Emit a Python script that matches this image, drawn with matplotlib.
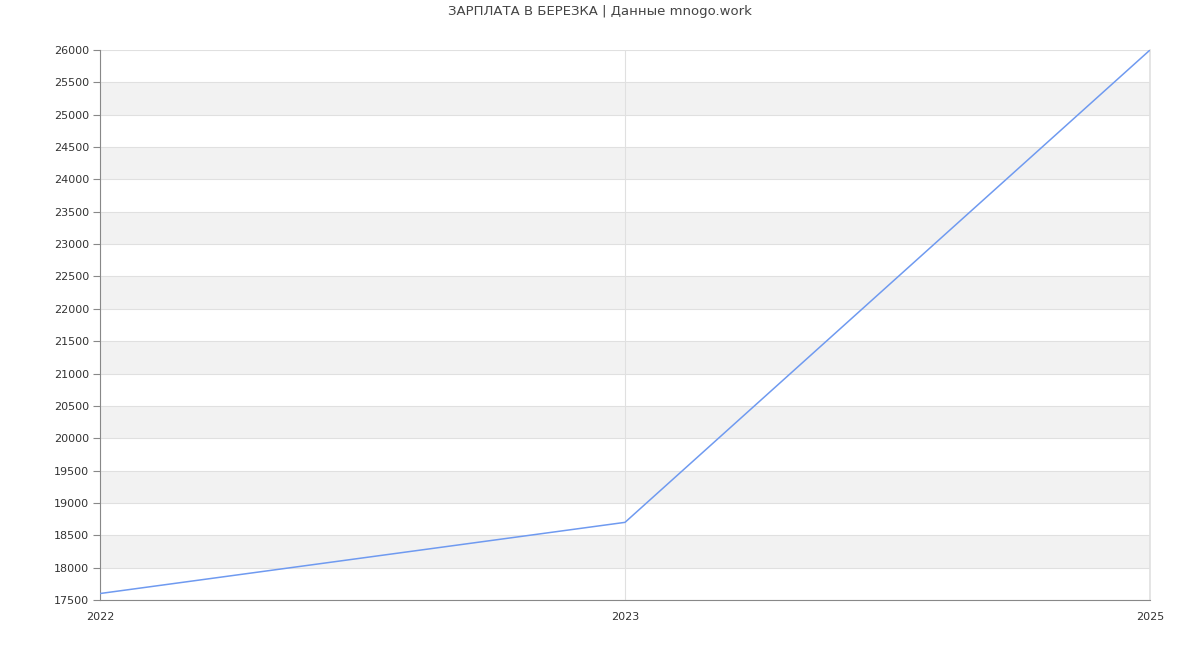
import matplotlib
matplotlib.use("Agg")
import matplotlib.pyplot as plt

years = ["2022", "2023", "2025"]
salary = [17600, 18700, 26000]
title = "ЗАРПЛАТА В БЕРЕЗКА | Данные mnogo.work"

fig = plt.figure(figsize=(12, 6.5), dpi=100)
ax = fig.add_axes([100/1200, 1-600/650, 1050/1200, 550/650])

ymin, ymax, step = 17500, 26000, 500
ax.set_ylim(ymin, ymax)
x = list(range(len(years)))
ax.set_xlim(x[0], x[-1])

# alternating bands
v = ymin
i = 0
while v < ymax:
    if i % 2 == 1:
        ax.axhspan(v, v + step, color="#f2f2f2", lw=0, zorder=0)
    v += step
    i += 1

ax.set_yticks(range(ymin, ymax + 1, step))
ax.set_xticks(x)
ax.set_xticklabels(years)
ax.grid(True, color="#e0e0e0", lw=0.8, zorder=1)
ax.set_axisbelow(True)

ax.plot(x, salary, color="#6f9af0", lw=1.1, zorder=3)

for s in ["top", "right"]:
    ax.spines[s].set_visible(False)
for s in ["left", "bottom"]:
    ax.spines[s].set_color("#888888")
    ax.spines[s].set_linewidth(0.8)
ax.axvline(x[-1], color="#e0e0e0", lw=1.2, zorder=1, clip_on=False)

ax.tick_params(axis="y", length=5, color="#888888", labelsize=8, labelcolor="#333333", pad=3)
ax.tick_params(axis="x", length=0, labelsize=8, labelcolor="#333333", pad=9)

fig.text(0.5, 1-12/650, title, ha="center", va="center", fontsize=9.5, color="#444444")

fig.savefig("out.png", dpi=100)
